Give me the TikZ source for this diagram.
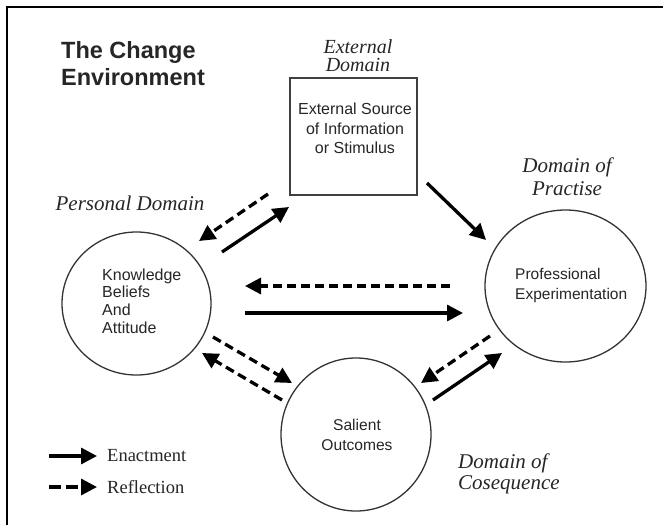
\documentclass[tikz,border=0pt]{standalone}
\usepackage{fontspec}
\setmainfont{Liberation Serif}
\setsansfont{Liberation Sans}
\usetikzlibrary{arrows.meta,shapes.geometric}
\tikzset{
  frameline/.style={line width=2pt, black},
  domainshape/.style={draw=black!80, line width=1.3pt, ellipse, inner sep=0pt},
  sourcebox/.style={draw=black!75, line width=1.6pt, rectangle, inner sep=0pt},
  enact/.style={line width=3.3pt, black, -{Triangle[length=16pt,width=16pt]}},
  reflect/.style={enact, dash pattern=on 9pt off 5pt},
  txt/.style={inner sep=0pt, text=black!85},
  sanstxt/.style={txt, font=\sffamily\fontsize{16}{17.7}\selectfont},
  domtxt/.style={txt, font=\itshape\fontsize{21}{23}\selectfont},
  legtxt/.style={txt, font=\rmfamily\fontsize{18.5}{20}\selectfont, anchor=west},
}
\begin{document}
\begin{tikzpicture}[x=1pt, y=-1pt]
\useasboundingbox (0,0) rectangle (663,525);
\fill[white] (0,0) rectangle (663,525);
\draw[frameline] (6.5,525) -- (6.5,6.5) -- (663,6.5);

% title
\node[txt, anchor=west, align=left, font=\sffamily\bfseries\fontsize{23.5}{27}\selectfont] (title) at (61,64) {The Change\\Environment};

% shapes
\node[sourcebox, minimum width=127pt, minimum height=117pt] (box) at (353.5,136.5) {};
\node[domainshape, minimum width=149pt, minimum height=143pt] (pers) at (136.5,303.5) {};
\node[domainshape, minimum width=161pt, minimum height=152pt] (prof) at (565.5,286) {};
\node[domainshape, minimum width=150pt, minimum height=153pt] (sal) at (356,434.5) {};

% texts in shapes
\node[sanstxt, align=center, font=\sffamily\fontsize{16}{19.5}\selectfont] (boxtxt) at (355,128.5) {External Source\\of Information\\or Stimulus};
\node[sanstxt, anchor=west, align=left] (perstxt) at (102,301) {Knowledge\\Beliefs\\And\\Attitude};
\node[sanstxt, anchor=west, align=left, font=\sffamily\fontsize{15.5}{20}\selectfont] (proftxt) at (515,285) {Professional\\Experimentation};
\node[sanstxt, align=center, font=\sffamily\fontsize{15.6}{19.5}\selectfont] (saltxt) at (357,435) {Salient\\Outcomes};

% domain labels
\node[domtxt, align=center, font=\itshape\fontsize{20}{18.5}\selectfont] (extdom) at (358,55.5) {External\\Domain};
\node[domtxt] (persdom) at (130,203) {Personal Domain};
\node[domtxt, align=center] (pracdom) at (567,177) {Domain of\\Practise};
\node[domtxt, anchor=west, align=left, font=\itshape\fontsize{21}{21}\selectfont] (consdom) at (458,474) {Domain of\\Cosequence};

% connector end points
\coordinate (r1s) at (268,194); \coordinate (r1e) at (199,241);
\coordinate (e1s) at (222,252); \coordinate (e1e) at (289,207);
\coordinate (e2s) at (427,183); \coordinate (e2e) at (486,240);
\coordinate (r2s) at (450,286); \coordinate (r2e) at (245,286);
\coordinate (e3s) at (245,313); \coordinate (e3e) at (463,313);
\coordinate (r3s) at (213,337); \coordinate (r3e) at (292,383);
\coordinate (r4s) at (282,400); \coordinate (r4e) at (202,353);
\coordinate (r5s) at (490,336); \coordinate (r5e) at (421,383);
\coordinate (e4s) at (433,400); \coordinate (e4e) at (502,353);

\draw[reflect] (r1s) -- (r1e);
\draw[enact] (e1s) -- (e1e);
\draw[enact] (e2s) -- (e2e);
\draw[reflect] (r2s) -- (r2e);
\draw[enact] (e3s) -- (e3e);
\draw[reflect] (r3s) -- (r3e);
\draw[reflect] (r4s) -- (r4e);
\draw[reflect] (r5s) -- (r5e);
\draw[enact] (e4s) -- (e4e);

% legend
\coordinate (l1s) at (49,456); \coordinate (l1e) at (97,456);
\coordinate (l2s) at (49,487); \coordinate (l2e) at (97,487);
\draw[enact] (l1s) -- (l1e);
\draw[reflect, dash pattern=on 12pt off 5pt] (l2s) -- (l2e);
\node[legtxt] (leg1) at (107,456) {Enactment};
\node[legtxt] (leg2) at (107,487) {Reflection};
\end{tikzpicture}
\end{document}
